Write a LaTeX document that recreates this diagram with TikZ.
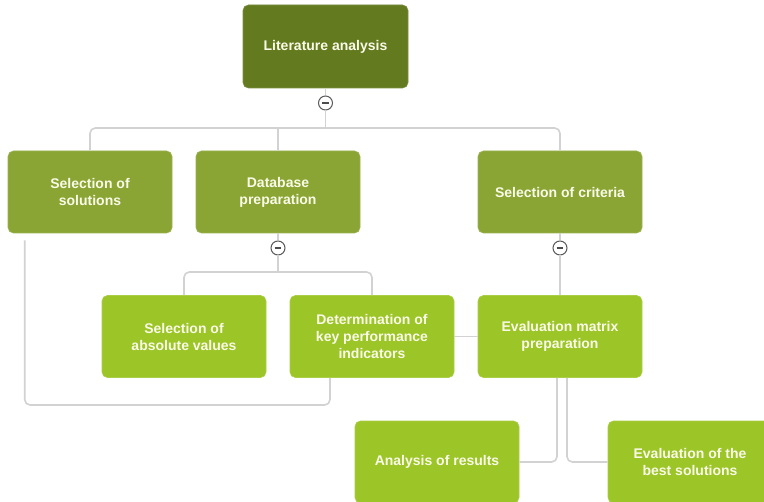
\documentclass[tikz,border=0pt]{standalone}
\usepackage{fontspec}
\setmainfont{Liberation Sans}
\definecolor{treedark}{RGB}{99,122,31}
\definecolor{treemid}{RGB}{138,165,52}
\definecolor{treelight}{RGB}{156,197,39}
\definecolor{treeline}{RGB}{210,210,210}
\definecolor{treetext}{RGB}{250,250,232}
\usetikzlibrary{arrows.meta,positioning,calc}

\tikzset{
  box/.style={rounded corners=4pt, minimum width=123pt, minimum height=61.5pt,
    font=\fontsize{10.5}{12.75}\selectfont\bfseries, align=center, text=treetext},
  rootbox/.style={box, fill=treedark, draw=treedark!85!white},
  midbox/.style={box, fill=treemid, draw=treemid!85!white},
  leafbox/.style={box, fill=treelight, draw=treelight!85!white},
  link/.style={draw=treeline, line width=1.2pt, rounded corners=4pt},
  toggle/.style={circle, draw=black!65, fill=white, line width=0.75pt, inner sep=0pt,
    minimum size=10.5pt, path picture={\draw[black!70, line width=0.9pt]
      ([xshift=-2.6pt]path picture bounding box.center) -- ([xshift=2.6pt]path picture bounding box.center);}}
}

\begin{document}
\begin{tikzpicture}[x=0.75pt, y=-0.75pt]
  \clip (0,0) rectangle (764,502);
  \fill[white] (0,0) rectangle (764,502);

  % Top level
  \node[rootbox, minimum width=123.75pt, minimum height=62.25pt] (lit) at (325.5,46.5) {Literature analysis};

  % Second level
  \node[midbox] (sol) at (90,192) {Selection of\\solutions};
  \node[midbox] (db) at (278,192) {Database\\preparation};
  \node[midbox] (crit) at (560,192) {Selection of criteria};

  % Third level
  \node[leafbox] (abs) at (184,336.5) {Selection of\\absolute values};
  \node[leafbox] (kpi) at (372,336.5) {Determination of\\key performance\\indicators};
  \node[leafbox] (evm) at (560,336.5) {Evaluation matrix\\preparation};

  % Fourth level
  \node[leafbox] (ana) at (437,462) {Analysis of results};
  \node[leafbox] (best) at (690,462) {Evaluation of the\\best solutions};

  % Collapse buttons
  \node[toggle] (tog1) at (325.5,103) {};
  \node[toggle] (tog2) at (278,248) {};
  \node[toggle] (tog3) at (560,248) {};

  % Bus points
  \coordinate (bus1) at (325.5,128);
  \coordinate (bus2) at (278,272);
  \coordinate (solbus) at (330,405);

  % Links from the root
  \draw[link] (lit.south) -- (tog1.north);
  \draw[link] (tog1.south) -- (bus1);
  \draw[link] (sol.north) |- (bus1) -| (crit.north);
  \draw[link] (db.north) -- (db.north |- bus1);

  % Links below database preparation
  \draw[link] (db.south) -- (tog2.north);
  \draw[link] (tog2.south) -- (bus2);
  \draw[link] (abs.north) |- (bus2) -| (kpi.north);

  % Links below selection of criteria
  \draw[link] (crit.south) -- (tog3.north);
  \draw[link] (tog3.south) -- (evm.north);

  % Cross links
  \draw[link] ($(sol.south west)+(17,7)$) |- (solbus) -- (solbus |- kpi.south);
  \draw[link] (kpi.east) -- (evm.west);
  \draw[link] ($(evm.south)+(-3,0)$) |- (ana.east);
  \draw[link] ($(evm.south)+(7,0)$) |- (best.west);
\end{tikzpicture}
\end{document}
